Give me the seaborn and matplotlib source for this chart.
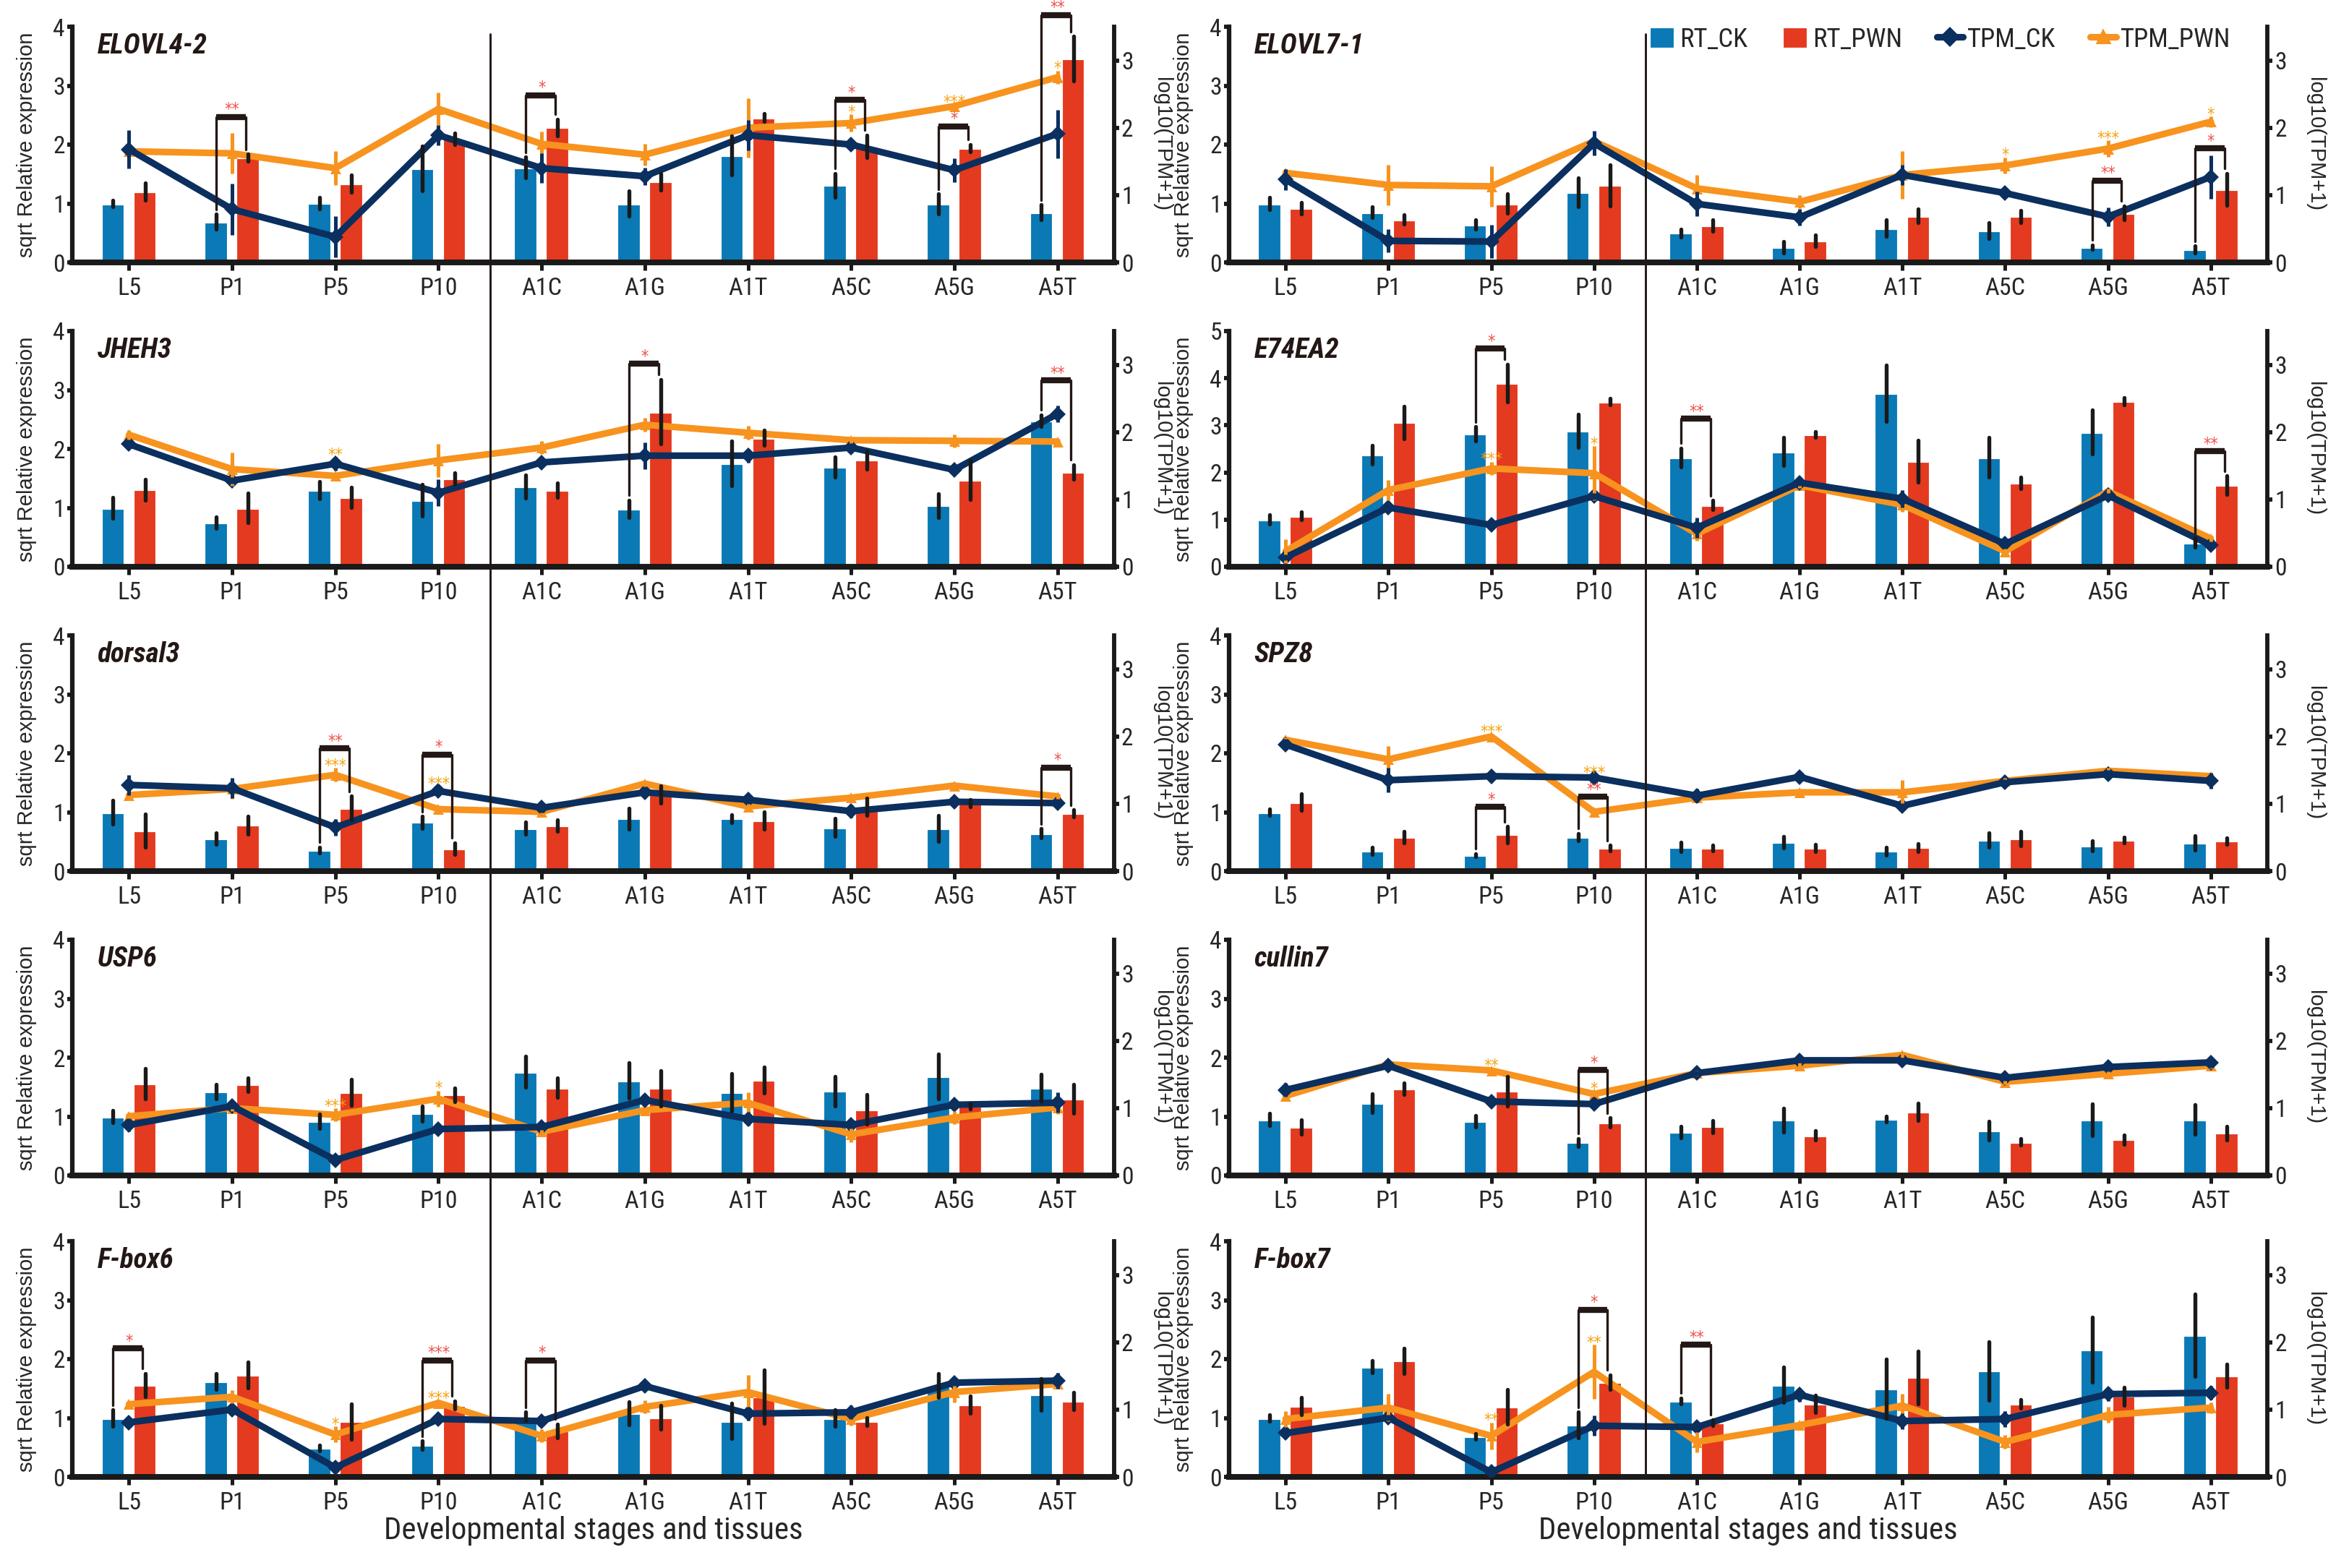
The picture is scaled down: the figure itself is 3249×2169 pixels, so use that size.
import numpy as np
import pandas as pd
import matplotlib
matplotlib.use("Agg")
import matplotlib.pyplot as plt
import seaborn as sns
from matplotlib import font_manager
from matplotlib.lines import Line2D
from matplotlib.patches import Patch

# ---- data ----
genes = ["ELOVL4-2", "ELOVL7-1", "JHEH3", "E74EA2", "dorsal3",
         "SPZ8", "USP6", "cullin7", "F-box6", "F-box7"]
stages = ["L5", "P1", "P5", "P10", "A1C", "A1G", "A1T", "A5C", "A5G", "A5T"]

# sqrt relative expression (qRT-PCR), one row per gene
rt_ck = [
    [1.00, 0.69, 1.01, 1.60, 1.61, 1.00, 1.82, 1.31, 0.99, 0.85],
    [1.00, 0.85, 0.64, 1.19, 0.50, 0.26, 0.58, 0.54, 0.26, 0.22],
    [1.00, 0.75, 1.30, 1.13, 1.36, 0.98, 1.75, 1.69, 1.04, 2.48],
    [1.00, 2.38, 2.82, 2.88, 2.32, 2.44, 3.68, 2.32, 2.86, 0.51],
    [1.00, 0.55, 0.36, 0.83, 0.73, 0.89, 0.89, 0.74, 0.72, 0.64],
    [1.00, 0.34, 0.27, 0.58, 0.41, 0.49, 0.34, 0.53, 0.43, 0.48],
    [1.00, 1.42, 0.92, 1.05, 1.76, 1.61, 1.41, 1.43, 1.68, 1.49],
    [0.95, 1.23, 0.92, 0.56, 0.74, 0.94, 0.96, 0.76, 0.95, 0.95],
    [1.00, 1.62, 0.49, 0.54, 1.03, 1.08, 0.95, 1.00, 1.55, 1.40],
    [1.00, 1.87, 0.69, 0.88, 1.29, 1.56, 1.50, 1.80, 2.16, 2.40],
]
rt_ck_err = [
    [0.05, 0.13, 0.10, 0.38, 0.18, 0.22, 0.33, 0.20, 0.17, 0.13],
    [0.10, 0.09, 0.08, 0.24, 0.07, 0.10, 0.14, 0.14, 0.04, 0.06],
    [0.18, 0.10, 0.15, 0.27, 0.20, 0.15, 0.38, 0.17, 0.20, 0.10],
    [0.10, 0.20, 0.15, 0.35, 0.20, 0.30, 0.60, 0.42, 0.47, 0.10],
    [0.20, 0.10, 0.05, 0.10, 0.10, 0.18, 0.07, 0.15, 0.22, 0.08],
    [0.05, 0.06, 0.03, 0.06, 0.08, 0.10, 0.07, 0.12, 0.09, 0.12],
    [0.10, 0.12, 0.12, 0.13, 0.26, 0.30, 0.32, 0.25, 0.38, 0.23],
    [0.10, 0.16, 0.10, 0.07, 0.10, 0.20, 0.05, 0.16, 0.27, 0.25],
    [0.14, 0.13, 0.05, 0.07, 0.07, 0.20, 0.30, 0.14, 0.20, 0.27],
    [0.05, 0.10, 0.05, 0.22, 0.05, 0.30, 0.50, 0.50, 0.55, 0.70],
]
rt_pwn = [
    [1.20, 1.78, 1.34, 2.10, 2.29, 1.37, 2.46, 1.97, 1.94, 3.46],
    [0.92, 0.73, 1.00, 1.31, 0.63, 0.37, 0.79, 0.78, 0.84, 1.24],
    [1.31, 1.00, 1.18, 1.50, 1.30, 2.63, 2.19, 1.81, 1.47, 1.61],
    [1.08, 3.06, 3.90, 3.50, 1.31, 2.81, 2.24, 1.78, 3.51, 1.73],
    [0.69, 0.78, 1.07, 0.38, 0.77, 1.30, 0.86, 1.09, 1.15, 0.98],
    [1.17, 0.58, 0.62, 0.39, 0.39, 0.39, 0.40, 0.55, 0.53, 0.51],
    [1.56, 1.54, 1.41, 1.37, 1.49, 1.48, 1.62, 1.12, 1.18, 1.30],
    [0.82, 1.47, 1.43, 0.90, 0.83, 0.68, 1.08, 0.57, 0.61, 0.72],
    [1.56, 1.73, 0.94, 1.22, 0.78, 1.01, 1.36, 0.94, 1.23, 1.29],
    [1.20, 1.97, 1.19, 1.61, 0.92, 1.24, 1.69, 1.24, 1.37, 1.72],
]
rt_pwn_err = [
    [0.15, 0.06, 0.15, 0.10, 0.14, 0.14, 0.07, 0.19, 0.06, 0.38],
    [0.10, 0.08, 0.17, 0.35, 0.10, 0.10, 0.12, 0.10, 0.12, 0.27],
    [0.18, 0.25, 0.17, 0.10, 0.12, 0.55, 0.13, 0.15, 0.33, 0.12],
    [0.08, 0.35, 0.40, 0.07, 0.10, 0.06, 0.45, 0.12, 0.08, 0.20],
    [0.28, 0.15, 0.20, 0.10, 0.10, 0.15, 0.15, 0.15, 0.06, 0.06],
    [0.14, 0.10, 0.14, 0.05, 0.05, 0.06, 0.07, 0.12, 0.05, 0.05],
    [0.26, 0.12, 0.22, 0.12, 0.17, 0.30, 0.22, 0.25, 0.05, 0.25],
    [0.12, 0.10, 0.25, 0.08, 0.10, 0.08, 0.15, 0.06, 0.08, 0.12],
    [0.20, 0.22, 0.30, 0.07, 0.12, 0.20, 0.45, 0.07, 0.15, 0.15],
    [0.15, 0.22, 0.30, 0.12, 0.05, 0.15, 0.45, 0.07, 0.15, 0.20],
]
# log10(TPM+1) from RNA-seq
tpm_ck = [
    [1.68, 0.79, 0.38, 1.89, 1.40, 1.28, 1.89, 1.75, 1.37, 1.91],
    [1.23, 0.32, 0.31, 1.77, 0.87, 0.67, 1.30, 1.03, 0.68, 1.27],
    [1.82, 1.28, 1.53, 1.10, 1.55, 1.65, 1.65, 1.77, 1.44, 2.27],
    [0.14, 0.88, 0.62, 1.05, 0.58, 1.25, 1.01, 0.34, 1.06, 0.32],
    [1.28, 1.23, 0.65, 1.19, 0.94, 1.17, 1.06, 0.89, 1.03, 1.01],
    [1.88, 1.35, 1.41, 1.39, 1.12, 1.40, 0.97, 1.32, 1.44, 1.34],
    [0.75, 1.03, 0.23, 0.69, 0.72, 1.12, 0.84, 0.75, 1.05, 1.08],
    [1.27, 1.63, 1.10, 1.06, 1.52, 1.71, 1.71, 1.45, 1.61, 1.68],
    [0.81, 1.00, 0.14, 0.86, 0.83, 1.35, 0.94, 0.96, 1.40, 1.43],
    [0.65, 0.88, 0.07, 0.76, 0.74, 1.22, 0.83, 0.86, 1.23, 1.25],
]
tpm_ck_err = [
    [0.28, 0.38, 0.31, 0.15, 0.22, 0.13, 0.23, 0.05, 0.18, 0.36],
    [0.16, 0.17, 0.25, 0.18, 0.18, 0.12, 0.15, 0.05, 0.14, 0.32],
    [0.05, 0.05, 0.10, 0.20, 0.04, 0.20, 0.10, 0.04, 0.04, 0.12],
    [0.04, 0.04, 0.04, 0.05, 0.15, 0.05, 0.13, 0.04, 0.04, 0.04],
    [0.15, 0.15, 0.12, 0.07, 0.07, 0.07, 0.04, 0.10, 0.08, 0.05],
    [0.08, 0.18, 0.06, 0.04, 0.10, 0.03, 0.04, 0.04, 0.06, 0.12],
    [0.10, 0.04, 0.04, 0.04, 0.04, 0.04, 0.10, 0.05, 0.04, 0.15],
    [0.10, 0.08, 0.04, 0.04, 0.04, 0.04, 0.04, 0.04, 0.04, 0.08],
    [0.04, 0.04, 0.04, 0.04, 0.04, 0.04, 0.10, 0.10, 0.05, 0.12],
    [0.08, 0.04, 0.04, 0.15, 0.04, 0.10, 0.12, 0.12, 0.10, 0.10],
]
tpm_pwn = [
    [1.65, 1.62, 1.40, 2.28, 1.76, 1.60, 2.00, 2.07, 2.32, 2.75],
    [1.33, 1.15, 1.13, 1.80, 1.10, 0.90, 1.30, 1.44, 1.69, 2.09],
    [1.96, 1.45, 1.35, 1.58, 1.77, 2.11, 1.99, 1.88, 1.87, 1.86],
    [0.23, 1.14, 1.46, 1.39, 0.49, 1.21, 0.92, 0.23, 1.12, 0.42],
    [1.13, 1.22, 1.43, 0.92, 0.88, 1.30, 0.96, 1.09, 1.27, 1.11],
    [1.95, 1.66, 2.00, 0.88, 1.09, 1.17, 1.17, 1.34, 1.49, 1.41],
    [0.88, 1.00, 0.90, 1.14, 0.65, 0.97, 1.08, 0.61, 0.86, 1.01],
    [1.18, 1.65, 1.56, 1.21, 1.52, 1.63, 1.79, 1.39, 1.51, 1.63],
    [1.08, 1.19, 0.63, 1.10, 0.61, 1.04, 1.26, 0.86, 1.26, 1.38],
    [0.86, 1.03, 0.61, 1.56, 0.52, 0.77, 1.06, 0.52, 0.92, 1.03],
]
tpm_pwn_err = [
    [0.05, 0.30, 0.25, 0.24, 0.18, 0.16, 0.44, 0.13, 0.03, 0.10],
    [0.05, 0.30, 0.30, 0.04, 0.20, 0.10, 0.35, 0.12, 0.12, 0.08],
    [0.07, 0.25, 0.05, 0.25, 0.10, 0.10, 0.10, 0.04, 0.10, 0.04],
    [0.18, 0.15, 0.10, 0.40, 0.10, 0.04, 0.10, 0.04, 0.04, 0.04],
    [0.04, 0.15, 0.10, 0.04, 0.04, 0.04, 0.04, 0.04, 0.04, 0.04],
    [0.04, 0.20, 0.04, 0.05, 0.04, 0.04, 0.18, 0.04, 0.04, 0.04],
    [0.05, 0.04, 0.10, 0.12, 0.04, 0.04, 0.15, 0.12, 0.10, 0.10],
    [0.04, 0.04, 0.04, 0.04, 0.04, 0.04, 0.04, 0.04, 0.04, 0.04],
    [0.04, 0.10, 0.12, 0.04, 0.10, 0.10, 0.25, 0.10, 0.15, 0.04],
    [0.12, 0.20, 0.20, 0.40, 0.15, 0.04, 0.18, 0.10, 0.12, 0.08],
]
# RT significance: gene index, stage index, bracket level (left axis units), stars
rt_sig_gene = [0, 0, 0, 0, 0, 1, 1, 2, 2, 3, 3, 3, 4, 4, 4, 5, 5, 7, 8, 8, 8, 9, 9]
rt_sig_stage = [1, 4, 7, 8, 9, 8, 9, 5, 9, 2, 4, 9, 2, 3, 9, 2, 3, 3, 0, 3, 4, 3, 4]
rt_sig_level = [2.47, 2.84, 2.76, 2.31, 4.20, 1.39, 1.94, 3.45, 3.16, 4.63, 3.14, 2.45,
                2.08, 1.98, 1.76, 1.09, 1.26, 1.79, 2.18, 1.98, 1.98, 2.84, 2.24]
rt_sig_mark = ["**", "*", "*", "*", "**", "**", "*", "*", "**", "*", "**", "**",
               "**", "*", "*", "*", "**", "*", "*", "***", "*", "*", "**"]
# TPM significance: gene index, stage index, stars
tpm_sig_gene = [0, 0, 0, 1, 1, 1, 2, 3, 3, 4, 4, 5, 5, 6, 6, 7, 7, 8, 8, 9, 9]
tpm_sig_stage = [7, 8, 9, 7, 8, 9, 2, 2, 3, 2, 3, 2, 3, 2, 3, 2, 3, 2, 3, 2, 3]
tpm_sig_mark = ["*", "***", "*", "*", "***", "*", "**", "***", "*", "***", "***",
                "***", "***", "***", "*", "**", "*", "*", "***", "**", "**"]

# ---- style ----
c_rt_ck = "#0a79b6"
c_rt_pwn = "#e43a1f"
c_tpm_ck = "#0b2f5e"
c_tpm_pwn = "#f7931e"
c_red_star = "#f0504a"
c_org_star = "#f5a20f"
c_dark = "#231815"

names = {f.name for f in font_manager.fontManager.ttflist}
narrow = "DejaVu Sans"
for cand in ["Liberation Sans Narrow", "Roboto Condensed", "Noto Sans Condensed",
             "Open Sans Condensed", "DejaVu Sans Condensed"]:
    if cand in names:
        narrow = cand
        break
regular = ["Liberation Sans", "DejaVu Sans"]

sns.set_theme(style="ticks")
plt.rcParams["font.family"] = [narrow, "DejaVu Sans"]
plt.rcParams["font.stretch"] = "condensed"

W, H = 3249, 2169
fig = plt.figure(figsize=(W / 300, H / 300), dpi=300)

col_left = [100, 1700]
col_width = [1441, 1436]
row_top = [37, 458, 879, 1300, 1717]
ph = 326
pos = np.arange(len(stages))
off = 0.155

axes = []
for k, gene in enumerate(genes):
    r, c = divmod(k, 2)
    ax = fig.add_axes([col_left[c] / W, 1 - (row_top[r] + ph) / H, col_width[c] / W, ph / H])
    axes.append(ax)
    ymax = 5 if gene == "E74EA2" else 4

    bars = pd.DataFrame({
        "stage": stages * 2,
        "group": ["RT_CK"] * 10 + ["RT_PWN"] * 10,
        "value": rt_ck[k] + rt_pwn[k],
    })
    sns.barplot(data=bars, x="stage", y="value", hue="group", order=stages,
                hue_order=["RT_CK", "RT_PWN"], palette=[c_rt_ck, c_rt_pwn],
                width=0.62, gap=0.24, errorbar=None, saturation=1,
                legend=False, ax=ax)

    ax2 = ax.twinx()
    tpm = pd.DataFrame({
        "pos": list(pos) * 2,
        "group": ["TPM_CK"] * 10 + ["TPM_PWN"] * 10,
        "value": tpm_ck[k] + tpm_pwn[k],
    })
    sns.lineplot(data=tpm, x="pos", y="value", hue="group", style="group",
                 hue_order=["TPM_PWN", "TPM_CK"],
                 palette={"TPM_CK": c_tpm_ck, "TPM_PWN": c_tpm_pwn},
                 markers={"TPM_CK": "D", "TPM_PWN": "^"}, dashes=False,
                 lw=2.2, ms=3.6, mew=0, legend=False, ax=ax2)
    # line error bars
    pv, pe = np.array(tpm_pwn[k]), np.array(tpm_pwn_err[k])
    cv, ce = np.array(tpm_ck[k]), np.array(tpm_ck_err[k])
    ax2.vlines(pos, pv - pe, pv + pe, colors=c_tpm_pwn, lw=1.2, zorder=2)
    ax2.vlines(pos, cv - ce, cv + ce, colors=c_tpm_ck, lw=1.2, zorder=3)

    # bar error bars, drawn above the lines but in bar units
    bv, be = np.array(rt_ck[k]), np.array(rt_ck_err[k])
    rv, re_ = np.array(rt_pwn[k]), np.array(rt_pwn_err[k])
    ax2.vlines(pos - off, bv - be, bv + be, colors="k", lw=1.3,
               capstyle="round", transform=ax.transData, zorder=4)
    ax2.vlines(pos + off, rv - re_, rv + re_, colors="k", lw=1.3,
               capstyle="round", transform=ax.transData, zorder=4)

    # RT significance brackets
    gap_y = 0.08 * ymax / 4
    for g, s, lev, mark in zip(rt_sig_gene, rt_sig_stage, rt_sig_level, rt_sig_mark):
        if g != k:
            continue
        xl, xr = s - off, s + off * 0.85
        yl = bv[s] + be[s] + gap_y
        yr = rv[s] + re_[s] + gap_y
        ax2.plot([xl, xl], [yl, lev], color=c_dark, lw=0.8, transform=ax.transData,
                 clip_on=False, zorder=5)
        ax2.plot([xr, xr], [yr, lev], color=c_dark, lw=0.8, transform=ax.transData,
                 clip_on=False, zorder=5)
        ax2.plot([xl, xr], [lev, lev], color=c_dark, lw=2.0, solid_capstyle="butt",
                 transform=ax.transData, clip_on=False, zorder=5)
        ax2.text(s, lev + 0.04 * ymax / 4, mark, transform=ax.transData, ha="center",
                 va="baseline", color=c_red_star, fontsize=5.5, family="DejaVu Sans",
                 clip_on=False, zorder=6)

    # TPM significance stars
    for g, s, mark in zip(tpm_sig_gene, tpm_sig_stage, tpm_sig_mark):
        if g != k:
            continue
        y = max(cv[s] + ce[s], pv[s] + pe[s]) - 0.04
        ax2.text(s, y, mark, ha="center", va="baseline", color=c_org_star,
                 fontsize=5.5, family="DejaVu Sans", zorder=6)

    # axes cosmetics
    ax.set_ylim(0, ymax)
    ax.set_yticks(range(0, ymax + 1))
    ax2.set_ylim(0, 3.5)
    ax2.set_yticks([0, 1, 2, 3])
    ax.set_xlim(-0.55, 9.55)

    for sp in ["top", "right"]:
        ax.spines[sp].set_visible(False)
    for sp in ["top", "left", "bottom"]:
        ax2.spines[sp].set_visible(False)
    ax.spines["left"].set_linewidth(1.5)
    ax.spines["bottom"].set_linewidth(1.9)
    ax2.spines["right"].set_linewidth(1.4)
    ax.spines["left"].set_color("k")
    ax.spines["bottom"].set_color("k")
    ax2.spines["right"].set_color("k")

    ax.tick_params(axis="x", length=2.6, width=1.2, pad=2.3, labelsize=8.2, color="k")
    ax.tick_params(axis="y", length=1.6, width=1.4, pad=0.8, labelsize=8.0, color="k")
    ax2.tick_params(axis="y", length=1.6, width=1.4, pad=0.8, labelsize=8.0, color="k")

    ax.set_ylabel("sqrt Relative expression", family=regular, fontsize=7,
                  fontstretch="normal")
    ax.yaxis.set_label_coords(-0.034, 0.5)
    ax2.set_ylabel("log10(TPM+1)", family=regular, fontsize=7, rotation=270,
                   va="bottom", fontstretch="normal")
    ax2.yaxis.set_label_coords(1.036, 0.5)
    if r == 4:
        ax.set_xlabel("Developmental stages and tissues", fontsize=10.3, labelpad=0.5)
    else:
        ax.set_xlabel("")

    ax.text(0.024, 0.975, gene, transform=ax.transAxes, ha="left", va="top",
            fontsize=9.4, fontweight="bold", fontstyle="italic", color=c_dark)

    if k == 1:
        handles = [
            Patch(facecolor=c_rt_ck, label="RT_CK"),
            Patch(facecolor=c_rt_pwn, label="RT_PWN"),
            Line2D([], [], color=c_tpm_ck, lw=2.2, marker="D", ms=3.6, label="TPM_CK"),
            Line2D([], [], color=c_tpm_pwn, lw=2.2, marker="^", ms=3.6, label="TPM_PWN"),
        ]
        ax2.legend(handles=handles, loc="upper right", bbox_to_anchor=(0.975, 1.045),
                   ncol=4, frameon=False, fontsize=8.8, handlelength=1.0,
                   handleheight=0.9, handletextpad=0.15, columnspacing=1.3,
                   borderaxespad=0)

# vertical dividers between developmental stages and adult tissues
inv = fig.transFigure.inverted()
for c in range(2):
    ax_top, ax_bot = axes[c], axes[8 + c]
    xd = ax_top.transData.transform((3.5, 0))[0]
    xf = inv.transform((xd, 0))[0]
    ytop = ax_top.get_position().y1 - 10 / H
    ybot = ax_bot.get_position().y0
    fig.add_artist(Line2D([xf, xf], [ybot, ytop], color=c_dark, lw=0.7))

fig.savefig("out.png", dpi=300)
